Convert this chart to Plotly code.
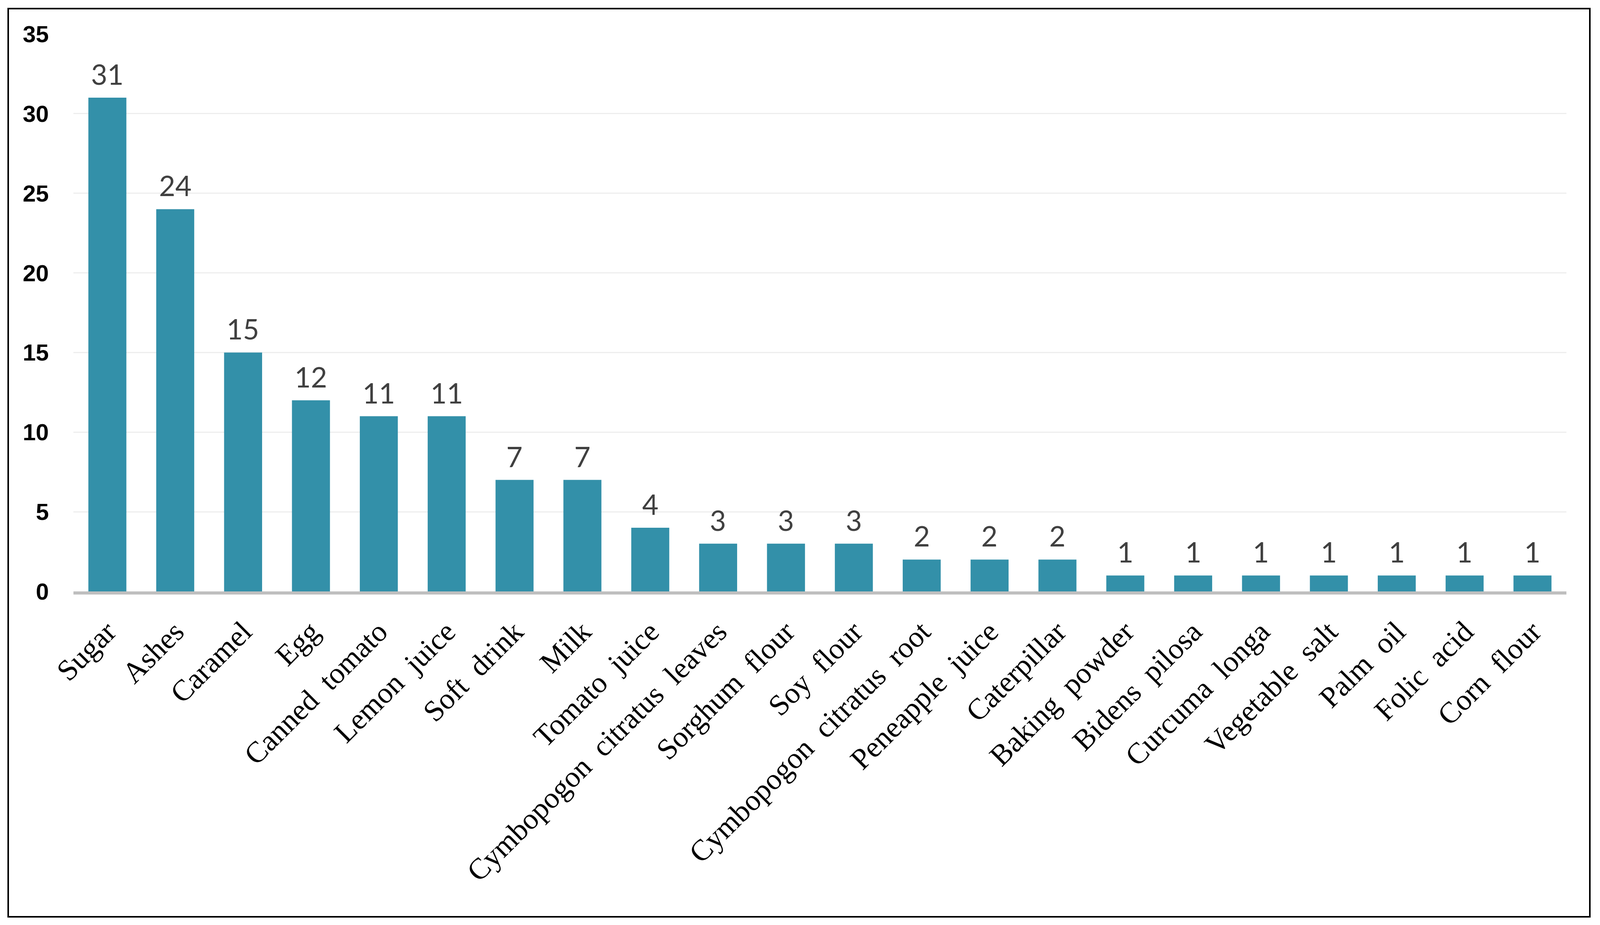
import plotly.graph_objects as go

# ingredient counts
ingredients = ["Sugar", "Ashes", "Caramel", "Egg", "Canned  tomato", "Lemon  juice",
               "Soft  drink", "Milk", "Tomato  juice", "Cymbopogon  citratus  leaves",
               "Sorghum  flour", "Soy  flour", "Cymbopogon  citratus  root",
               "Peneapple  juice", "Caterpillar", "Baking  powder", "Bidens  pilosa",
               "Curcuma  longa", "Vegetable  salt", "Palm  oil", "Folic  acid", "Corn  flour"]
counts = [31, 24, 15, 12, 11, 11, 7, 7, 4, 3, 3, 3, 2, 2, 2, 1, 1, 1, 1, 1, 1, 1]
y_ticks = [0, 5, 10, 15, 20, 25, 30, 35]

bar_color = "rgb(51,144,169)"

fig = go.Figure()
fig.add_trace(go.Bar(x=ingredients, y=counts, marker_color=bar_color,
                     marker_line_width=0, width=0.56))

# value labels above each bar
for name, val in zip(ingredients, counts):
    fig.add_annotation(x=name, y=val, text=str(val), showarrow=False,
                       yanchor="bottom", yshift=16,
                       font=dict(family="Lato, Noto Sans, sans-serif", size=72, color="#404040"))

# the browser viewport is 4096 wide, so size the page to fit inside it
fig.update_layout(
    width=4080, height=2352,
    margin=dict(l=180, r=78, t=79, b=846),
    plot_bgcolor="white", paper_bgcolor="white",
    showlegend=False,
    shapes=[dict(type="rect", xref="paper", yref="paper",
                 x0=-0.0437, x1=1.0157, y0=-0.5837, y1=1.0456,
                 line=dict(color="black", width=4), fillcolor="rgba(0,0,0,0)")],
)

fig.update_xaxes(
    type="category", range=[-0.5, len(ingredients) - 0.5],
    tickangle=-45, showgrid=False,
    showline=True, linecolor="#BFBFBF", linewidth=8,
    ticks="", ticklabelstandoff=20,
    tickfont=dict(family="Liberation Serif, DejaVu Serif, serif", size=76, color="black"),
)
fig.update_yaxes(
    range=[0, 35], tickvals=y_ticks,
    showgrid=True, gridcolor="#EEEEEE", gridwidth=3,
    zeroline=False, showline=False, ticks="",
    ticklabelstandoff=62,
    tickfont=dict(family="Liberation Sans Narrow, Arial Narrow, Liberation Sans, sans-serif",
                  size=60, color="black", weight="bold"),
)

fig.write_html("out.html")
